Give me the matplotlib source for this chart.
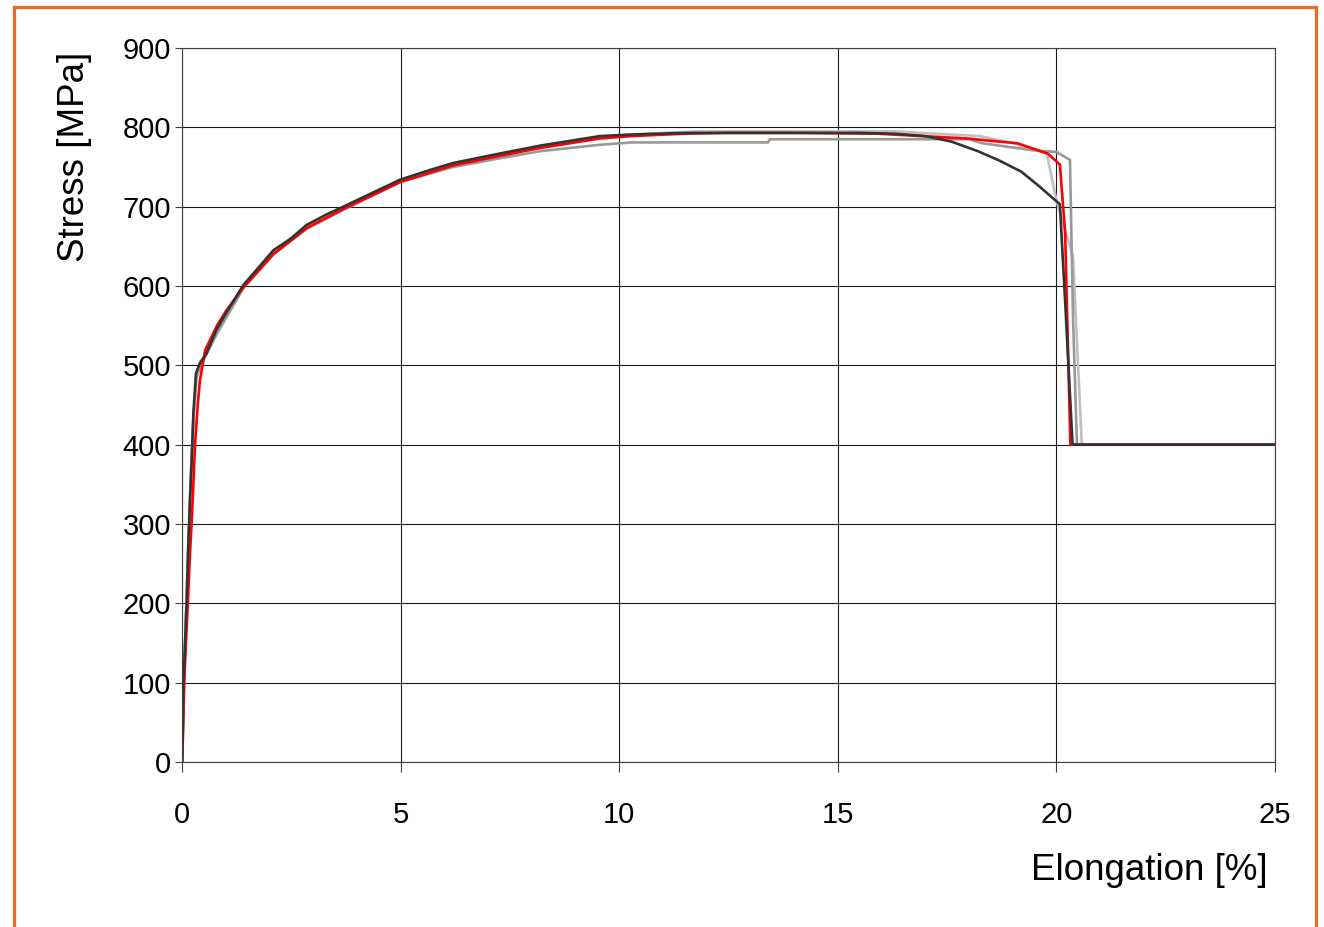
import matplotlib
matplotlib.use("Agg")
import matplotlib.pyplot as plt
from matplotlib.patches import Rectangle

plt.rcParams['font.family'] = ['Liberation Sans', 'DejaVu Sans']

# Tensile test curves: elongation [%] vs stress [MPa], one list pair per specimen
elong_1 = [0, 0.02, 0.05, 0.10, 0.15, 0.20, 0.26, 0.33, 0.45, 0.8, 1.4, 2.09, 2.85, 3.69, 4.99, 6.2,
           7.27, 8.2, 9.56, 10.3, 11.85, 14.0, 16.3, 17.2, 18.25, 19.0, 19.78, 20.0, 20.38, 20.58, 25.0]
stress_1 = [0, 40, 110, 200, 280, 360, 430, 488, 505, 543, 600, 644, 676, 699, 733, 754,
            766, 776, 788, 791, 795, 795, 795, 792, 789, 780, 767, 708, 637, 400, 400]

elong_2 = [0, 0.02, 0.05, 0.10, 0.15, 0.20, 0.26, 0.33, 0.45, 0.8, 1.4, 2.09, 2.85, 3.69, 4.99, 6.2,
           7.27, 8.2, 9.56, 10.3, 13.4, 13.45, 18.0, 18.3, 19.47, 20.0, 20.31, 20.38, 20.47, 25.0]
stress_2 = [0, 40, 110, 200, 280, 360, 430, 485, 502, 540, 597, 640, 672, 696, 731, 750,
            761, 770, 778, 781, 781, 785, 785, 780, 771, 769, 759, 560, 400, 400]

elong_3 = [0, 0.02, 0.05, 0.09, 0.14, 0.18, 0.22, 0.26, 0.30, 0.36, 0.41, 0.53, 0.8, 1.0, 1.4, 2.09,
           2.85, 3.69, 4.99, 6.2, 7.27, 8.2, 9.56, 10.3, 11.5, 12.5, 14.0, 15.9, 16.9, 17.95, 18.5,
           19.1, 19.8, 20.08, 20.2, 20.32, 25.0]
stress_3 = [0, 30, 100, 150, 208, 260, 301, 350, 402, 450, 481, 519, 550, 568, 598, 640,
            673, 697, 731, 752, 764, 774, 786, 789, 792, 793, 793, 792, 789, 786, 783,
            780, 767, 753, 667, 400, 400]

elong_4 = [0, 0.007, 0.016, 0.03, 0.07, 0.11, 0.14, 0.18, 0.22, 0.26, 0.32, 0.41, 0.56, 0.79, 1.0,
           1.4, 1.7, 2.09, 2.5, 2.85, 3.3, 3.69, 4.3, 4.99, 5.6, 6.2, 7.27, 8.2, 9.56, 10.3, 11.5,
           12.5, 14.0, 15.5, 16.3, 17.0, 17.6, 18.2, 18.7, 19.2, 19.6, 20.08, 20.2, 20.37, 25.0]
stress_4 = [0, 0, 37, 95, 150, 208, 267, 326, 377, 440, 490, 503, 515, 545, 565,
            601, 620, 645, 660, 677, 690, 700, 716, 734, 745, 755, 767, 777, 789, 791, 793,
            793, 793, 793, 792, 789, 782, 770, 758, 744, 726, 703, 580, 400, 400]

series = [
    (elong_1, stress_1, '#c0c0c0'),
    (elong_2, stress_2, '#999999'),
    (elong_3, stress_3, '#ff0000'),
    (elong_4, stress_4, '#333333'),
]

fig = plt.figure(figsize=(13.24, 9.27), dpi=100)
ax = fig.add_axes([182 / 1324, 1 - 762 / 927, (1275 - 182) / 1324, (762 - 48) / 927])

for x, y, c in series:
    ax.plot(x, y, color=c, linewidth=1.9, solid_joinstyle='miter')

ax.set_xlim(0, 25)
ax.set_ylim(0, 900)
ax.set_xticks(range(0, 26, 5))
ax.set_yticks(range(0, 901, 100))
ax.grid(True, color='#1a1a1a', linewidth=0.8)
ax.set_axisbelow(True)
for sp in ax.spines.values():
    sp.set_color('#404040')
    sp.set_linewidth(0.8)

ax.tick_params(axis='x', direction='out', length=7, width=0.8, pad=21, labelsize=21, color='#404040')
ax.tick_params(axis='y', direction='out', length=5, width=0.8, pad=3, labelsize=21, color='#404040')

fig.text(1268 / 1324, 1 - 871 / 927, 'Elongation [%]', ha='right', va='center', fontsize=26.5)
fig.text(75 / 1324, 1 - 157 / 927, 'Stress [MPa]', ha='center', va='center', rotation=90, fontsize=26.5)

# orange frame around the chart (bottom edge runs off the canvas)
frame = Rectangle((13.5 / 1324, -0.05), (1315.5 - 13.5) / 1324, 1 - 6.5 / 927 + 0.05,
                  transform=fig.transFigure, fill=False, edgecolor='#f26722', linewidth=2.3)
fig.patches.append(frame)

fig.savefig('out.png', dpi=100)
